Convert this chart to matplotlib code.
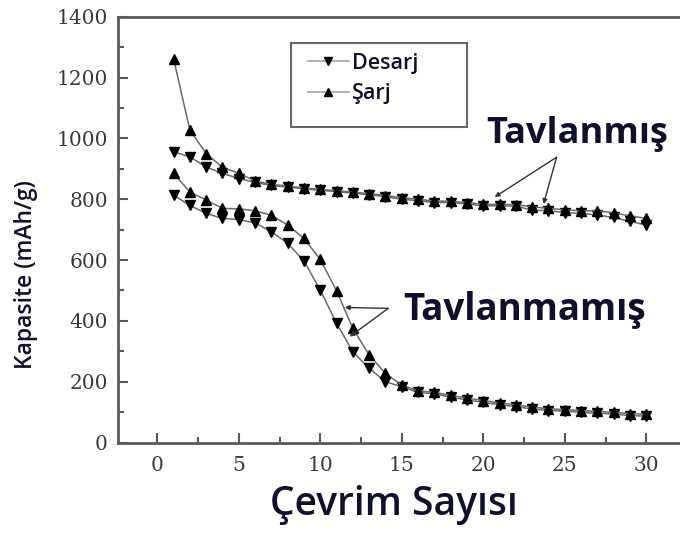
import matplotlib
matplotlib.use("Agg")
import matplotlib.pyplot as plt
from matplotlib.patches import Rectangle
from matplotlib.ticker import MultipleLocator

# Cycle numbers
cycles = list(range(1, 31))

# Annealed electrode (Tavlanmış)
annealed_charge = [1262, 1027, 950, 905, 885, 860, 849, 843, 837, 832,
                   828, 823, 818, 812, 805, 800, 794, 793, 789, 783,
                   783, 782, 775, 770, 765, 762, 762, 755, 745, 737]
annealed_discharge = [956, 939, 906, 885, 868, 855, 845, 840, 834, 829,
                      825, 820, 815, 808, 800, 795, 789, 789, 784, 778,
                      778, 777, 764, 762, 756, 753, 748, 740, 727, 715]

# Non-annealed electrode (Tavlanmamış)
raw_charge = [885, 824, 797, 770, 768, 762, 747, 715, 671, 602,
              499, 375, 288, 227, 189, 170, 165, 155, 146, 138,
              130, 124, 116, 111, 108, 105, 102, 99, 95, 93]
raw_discharge = [813, 780, 753, 737, 733, 722, 693, 655, 597, 501,
                 392, 298, 244, 200, 183, 165, 160, 149, 140, 132,
                 124, 118, 110, 105, 103, 99, 96, 94, 88, 87]

yticks = [0, 200, 400, 600, 800, 1000, 1200, 1400]
xticks = [0, 5, 10, 15, 20, 25, 30]

W, H = 680, 534
fig = plt.figure(figsize=(W / 100, H / 100), dpi=100)
ax = fig.add_axes([117.5 / W, (H - 442.5) / H, 1 - 117.5 / W, (442.5 - 16.7) / H])

line_kw = dict(color="#6a6a6a", lw=1.1, mfc="black", mec="black", ms=7.5)
h_dis, = ax.plot(cycles, annealed_discharge, marker="v", **line_kw)
h_chg, = ax.plot(cycles, annealed_charge, marker="^", **line_kw)
ax.plot(cycles, raw_discharge, marker="v", **line_kw)
ax.plot(cycles, raw_charge, marker="^", **line_kw)

ax.set_xlim(-2.44, 32.07)
ax.set_ylim(0, 1400)
ax.set_xticks(xticks)
ax.set_yticks(yticks)
ax.xaxis.set_minor_locator(MultipleLocator(2.5))
ax.yaxis.set_minor_locator(MultipleLocator(100))

spine_col = "#5a5a5a"
for s in ["left", "bottom", "top"]:
    ax.spines[s].set_color(spine_col)
    ax.spines[s].set_linewidth(2.0)
ax.spines["right"].set_visible(False)
ax.tick_params(which="both", direction="in", color=spine_col, width=1.5,
               top=False, right=False)
ax.tick_params(which="major", length=7, labelsize=14.5, labelcolor="#3a3a3a")
ax.tick_params(axis="x", which="major", pad=10)
ax.tick_params(axis="y", which="major", pad=7)
ax.tick_params(which="minor", length=4)
for lab in ax.get_xticklabels() + ax.get_yticklabels():
    lab.set_family("DejaVu Serif")

text_col = "#10102a"

# Legend with its frame
leg = ax.legend([h_dis, h_chg], ["Desarj", "Şarj"], loc="upper left",
                bbox_to_anchor=((297 - 117.5) / (W - 117.5), 1 - (42 - 16.7) / (442.5 - 16.7)),
                bbox_transform=ax.transAxes, frameon=False,
                handlelength=1.9, handletextpad=0.15, borderpad=0.0,
                labelspacing=0.45,
                prop={"family": "Open Sans", "size": 15.5, "weight": "semibold"})
for t in leg.get_texts():
    t.set_color(text_col)
for lh in leg.legend_handles:
    lh.set_color("#9a9a9a")
    lh.set_markerfacecolor("black")
    lh.set_markeredgecolor("black")
    lh.set_markersize(6)
fig.patches.append(Rectangle((290.5 / W, 1 - 127 / H), (467 - 290.5) / W, (127 - 43) / H,
                             transform=fig.transFigure, fill=False,
                             edgecolor="#666666", lw=1.5))

# Group labels with leader lines
ax.text(20.2, 984, "Tavlanmış", fontsize=26, fontweight="bold",
        family="Open Sans", color=text_col, ha="left", va="baseline")
arrow_kw = dict(arrowstyle="-|>", color="#333333", lw=1.0, mutation_scale=7,
                shrinkA=0, shrinkB=0)
ax.annotate("", xy=(20.7, 807), xytext=(24.5, 938), arrowprops=arrow_kw)
ax.annotate("", xy=(23.7, 784), xytext=(24.5, 938), arrowprops=arrow_kw)

ax.text(15.07, 402, "Tavlanmamış", fontsize=26.5, fontweight="bold",
        family="Open Sans", color=text_col, ha="left", va="baseline")
ax.annotate("", xy=(11.5, 444), xytext=(14.17, 441), arrowprops=arrow_kw)
ax.annotate("", xy=(11.8, 348), xytext=(14.17, 441), arrowprops=arrow_kw)

# Axis titles
fig.text(394 / W, 1 - 515 / H, "Çevrim Sayısı", fontsize=28, family="Open Sans",
         fontweight="semibold", color=text_col, ha="center", va="baseline")
fig.text(26 / W, 1 - 275 / H, "Kapasite (mAh/g)", fontsize=16.5, family="Open Sans",
         fontweight="semibold", color=text_col, rotation=90, ha="center", va="center")

fig.savefig("out.png", dpi=100)
